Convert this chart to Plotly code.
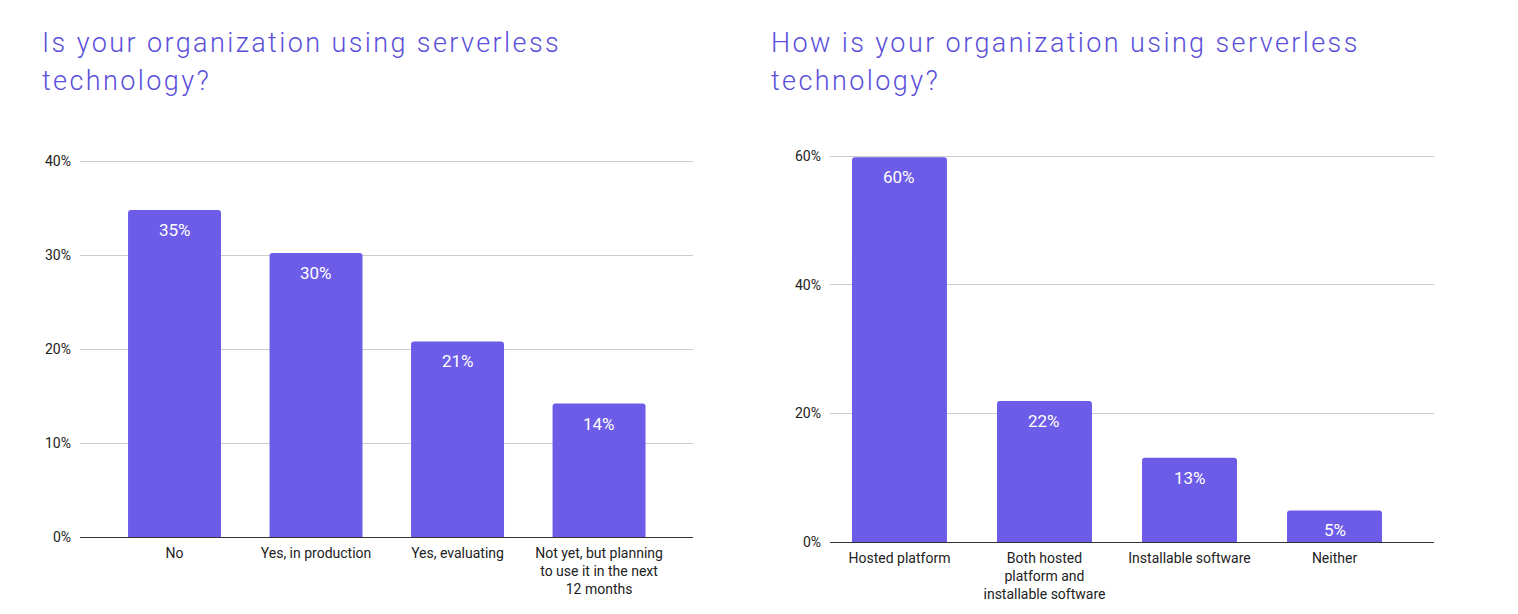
import plotly.graph_objects as go

left_title = "Is your organization using serverless<br>technology?"
left_categories = ["No", "Yes, in production", "Yes, evaluating",
                   "Not yet, but planning<br>to use it in the next<br>12 months"]
left_values = [34.8, 30.2, 20.8, 14.2]
left_labels = ["35%", "30%", "21%", "14%"]
left_ticks = [0, 10, 20, 30, 40]
left_ticktext = ["0%", "10%", "20%", "30%", "40%"]

right_title = "How is your organization using serverless<br>technology?"
right_categories = ["Hosted platform", "Both hosted<br>platform and<br>installable software",
                    "Installable software", "Neither"]
right_values = [59.8, 21.9, 13.1, 4.9]
right_labels = ["60%", "22%", "13%", "5%"]
right_ticks = [0, 20, 40, 60]
right_ticktext = ["0%", "20%", "40%", "60%"]

BAR = "#6C5CE7"
TITLE = "#5B4FD9"
FONT = "Roboto"
H = 614

fig = go.Figure()
fig.add_trace(go.Bar(x=left_categories, y=left_values, marker=dict(color=BAR, cornerradius=3, line=dict(width=0)),
                     width=0.657, xaxis="x", yaxis="y", hoverinfo="skip"))
fig.add_trace(go.Bar(x=right_categories, y=right_values, marker=dict(color=BAR, cornerradius=3, line=dict(width=0)),
                     width=0.655, xaxis="x2", yaxis="y2", hoverinfo="skip"))

annotations = []
for c, v, t in zip(left_categories, left_values, left_labels):
    annotations.append(dict(x=c, y=v, xref="x", yref="y", text=t, showarrow=False,
                            yanchor="top", yshift=-8, font=dict(color="white", size=17, family=FONT)))
for c, v, t in zip(right_categories, right_values, right_labels):
    annotations.append(dict(x=c, y=v, xref="x2", yref="y2", text=t, showarrow=False,
                            yanchor="top", yshift=-8, font=dict(color="white", size=17, family=FONT)))

title_font = dict(color=TITLE, size=27, family=FONT, weight=300)
annotations.append(dict(x=40/1518, y=1-25/H, xref="paper", yref="paper", text=left_title,
                        showarrow=False, xanchor="left", yanchor="top", align="left", font=title_font))
annotations.append(dict(x=769/1518, y=1-25/H, xref="paper", yref="paper", text=right_title,
                        showarrow=False, xanchor="left", yanchor="top", align="left", font=title_font))

axis_common = dict(showgrid=False, showline=True, linecolor="#333333", linewidth=1, automargin=False,
                   ticks="", ticklabelstandoff=3,
                   tickfont=dict(size=14, color="#222222", family=FONT), fixedrange=True)
yaxis_common = dict(showgrid=True, gridcolor="#CCCCCC", gridwidth=1, zeroline=False, showline=False,
                    automargin=False, ticks="", ticklabelstandoff=8,
                    tickfont=dict(size=14, color="#222222", family=FONT), fixedrange=True)

# left: 0 at y=537, 40 at y=161 ; right: 0 at y=542, 60 at y=156
lpx = (537 - 161) / 40
rpx = (542 - 156) / 60
ltop, rtop = 40.5, 60.6

fig.update_layout(
    width=1518, height=H,
    margin=dict(l=0, r=0, t=0, b=0, pad=0),
    paper_bgcolor="white", plot_bgcolor="white",
    showlegend=False,
    font=dict(family=FONT),
    xaxis=dict(domain=[80/1518, 693/1518], range=[-0.668, 3.664], anchor="y", **axis_common),
    yaxis=dict(domain=[(H-537)/H, (H-(537-ltop*lpx))/H], range=[0, ltop], tickvals=left_ticks,
               ticktext=left_ticktext, anchor="x", **yaxis_common),
    xaxis2=dict(domain=[830/1518, 1434/1518], range=[-0.479, 3.686], anchor="y2", **axis_common),
    yaxis2=dict(domain=[(H-542)/H, (H-(542-rtop*rpx))/H], range=[0, rtop], tickvals=right_ticks,
                ticktext=right_ticktext, anchor="x2", **yaxis_common),
    annotations=annotations,
)

n_titles_start = len(left_values) + len(right_values)
post = """
var gd = document.getElementById('{plot_id}');
function spaceTitles() {
  for (var i = %d; i < %d; i++) {
    var t = gd.querySelector('g.annotation[data-index="' + i + '"] text.annotation-text');
    if (t) {
      t.style.letterSpacing = '2.4px';
      var ts = t.querySelectorAll('tspan.line');
      for (var k = 1; k < ts.length; k++) { ts[k].setAttribute('dy', (1.4 * k) + 'em'); }
    }
  }
}
spaceTitles();
gd.on('plotly_afterplot', spaceTitles);
""" % (n_titles_start, n_titles_start + 2)

fig.write_html("out.html", post_script=post)
